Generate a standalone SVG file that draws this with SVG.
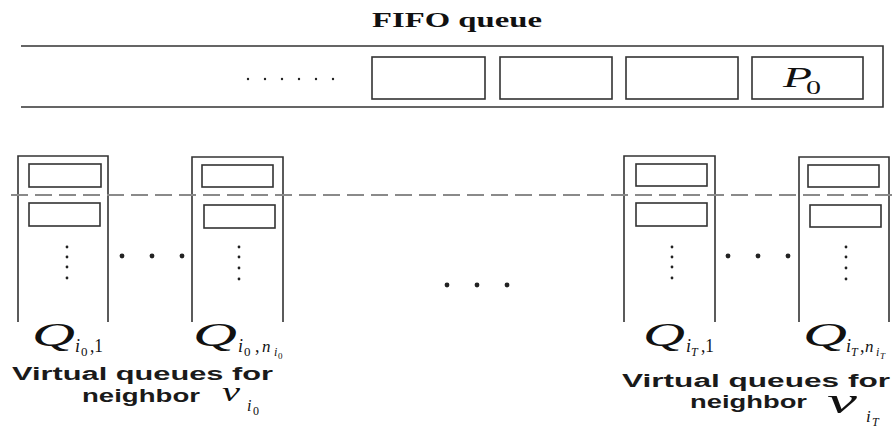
<svg xmlns="http://www.w3.org/2000/svg" width="895" height="430" viewBox="0 0 895 430">
<style>
.ln{fill:none;stroke:#333;stroke-width:1.6}
.bx{fill:#fff;stroke:#333;stroke-width:1.6}
.dash{fill:none;stroke:#8a8a8a;stroke-width:2;stroke-dasharray:17 7}
.dot{fill:#222}
.mi{font-family:"Liberation Serif",serif;font-style:italic;fill:#111}
.mr{font-family:"Liberation Serif",serif;fill:#111}
.lbl{font-family:"Liberation Sans",Arial,sans-serif;font-weight:bold;font-size:18px;fill:#1a1a1a}
.ttl{font-family:"Liberation Serif",serif;font-weight:bold;font-size:20px;fill:#111}
</style>
<rect width="895" height="430" fill="#fff"/>

<g id="fifo">
<text class="ttl" x="372" y="27" textLength="170" lengthAdjust="spacingAndGlyphs">FIFO queue</text>
<path class="ln" d="M21 46H883V107H21"/>
<g class="dot">
<circle cx="248" cy="79" r="1.2"/><circle cx="265" cy="79" r="1.2"/><circle cx="282" cy="79" r="1.2"/><circle cx="299" cy="79" r="1.2"/><circle cx="316" cy="79" r="1.2"/><circle cx="333" cy="79" r="1.2"/>
</g>
<rect class="bx" x="372" y="57" width="113" height="42"/>
<rect class="bx" x="500" y="57" width="112" height="42"/>
<rect class="bx" x="626" y="57" width="112" height="42"/>
<rect class="bx" x="752" y="57" width="111" height="42"/>
<text class="mi" x="783" y="87" font-size="30" textLength="29" lengthAdjust="spacingAndGlyphs">P</text>
<text class="mr" x="806" y="94" font-size="18" textLength="15" lengthAdjust="spacingAndGlyphs">0</text>
</g>

<g id="q_i0_1">
<path class="ln" d="M18 322V156H108V322"/>
<rect class="bx" x="29" y="164" width="72" height="23"/>
<rect class="bx" x="29" y="203" width="71" height="23"/>
<g class="dot"><circle cx="67" cy="247" r="1.4"/><circle cx="67" cy="257" r="1.4"/><circle cx="67" cy="267" r="1.4"/><circle cx="67" cy="278" r="1.4"/></g>
<text class="mi" x="32" y="346" font-size="34" textLength="43" lengthAdjust="spacingAndGlyphs">Q</text>
<text class="mi" x="75" y="352" font-size="18">i</text>
<text class="mr" x="81" y="356" font-size="13">0</text>
<text class="mr" x="90" y="352" font-size="18" textLength="13" lengthAdjust="spacingAndGlyphs">,1</text>
</g>

<g id="q_i0_n">
<path class="ln" d="M192 322V157H283V322"/>
<rect class="bx" x="202" y="165" width="71" height="22"/>
<rect class="bx" x="204" y="205" width="71" height="23"/>
<g class="dot"><circle cx="239" cy="247" r="1.4"/><circle cx="239" cy="257" r="1.4"/><circle cx="239" cy="268" r="1.4"/><circle cx="239" cy="279" r="1.4"/></g>
<text class="mi" x="193" y="346" font-size="34" textLength="44" lengthAdjust="spacingAndGlyphs">Q</text>
<text class="mi" x="238" y="352" font-size="18">i</text>
<text class="mr" x="244" y="356" font-size="13">0</text>
<text class="mr" x="255" y="352" font-size="18">,</text>
<text class="mi" x="262" y="352" font-size="17">n</text>
<text class="mi" x="274" y="356" font-size="12">i</text>
<text class="mr" x="278" y="359" font-size="9">0</text>
</g>

<g id="q_iT_1">
<path class="ln" d="M624 322V156H715V322"/>
<rect class="bx" x="636" y="164" width="71" height="22"/>
<rect class="bx" x="636" y="203" width="71" height="23"/>
<g class="dot"><circle cx="672" cy="247" r="1.4"/><circle cx="672" cy="257" r="1.4"/><circle cx="672" cy="267" r="1.4"/><circle cx="672" cy="278" r="1.4"/></g>
<text class="mi" x="643" y="346" font-size="34" textLength="42" lengthAdjust="spacingAndGlyphs">Q</text>
<text class="mi" x="686" y="352" font-size="18">i</text>
<text class="mi" x="691" y="356" font-size="12">T</text>
<text class="mr" x="701" y="352" font-size="18" textLength="13" lengthAdjust="spacingAndGlyphs">,1</text>
</g>

<g id="q_iT_n">
<path class="ln" d="M799 322V157H889V322"/>
<rect class="bx" x="808" y="165" width="71" height="22"/>
<rect class="bx" x="810" y="205" width="71" height="22"/>
<g class="dot"><circle cx="846" cy="247" r="1.4"/><circle cx="846" cy="257" r="1.4"/><circle cx="846" cy="268" r="1.4"/><circle cx="846" cy="279" r="1.4"/></g>
<text class="mi" x="803" y="346" font-size="34" textLength="44" lengthAdjust="spacingAndGlyphs">Q</text>
<text class="mi" x="846" y="352" font-size="18">i</text>
<text class="mi" x="851" y="356" font-size="12">T</text>
<text class="mr" x="860" y="352" font-size="18">,</text>
<text class="mi" x="865" y="352" font-size="17">n</text>
<text class="mi" x="876" y="356" font-size="12">i</text>
<text class="mi" x="880" y="359" font-size="9">T</text>
</g>

<g id="connectors">
<line class="dash" x1="11" y1="195" x2="895" y2="195"/>
<g class="dot">
<circle cx="122" cy="256" r="2.4"/><circle cx="152" cy="256" r="2.4"/><circle cx="182" cy="256" r="2.4"/>
<circle cx="447" cy="285" r="2.4"/><circle cx="477" cy="285" r="2.4"/><circle cx="507" cy="285" r="2.4"/>
<circle cx="728" cy="256" r="2.4"/><circle cx="758" cy="256" r="2.4"/><circle cx="788" cy="256" r="2.4"/>
</g>
</g>

<g id="label_i0">
<text class="lbl" x="12" y="380" textLength="261" lengthAdjust="spacingAndGlyphs">Virtual queues for</text>
<text class="lbl" x="82" y="402" textLength="118" lengthAdjust="spacingAndGlyphs">neighbor</text>
<text class="mi" x="222" y="401" font-size="27" textLength="18" lengthAdjust="spacingAndGlyphs">v</text>
<text class="mi" x="247" y="411" font-size="16">i</text>
<text class="mr" x="253" y="415" font-size="12">0</text>
</g>

<g id="label_iT">
<text class="lbl" x="622" y="387" textLength="268" lengthAdjust="spacingAndGlyphs">Virtual queues for</text>
<text class="lbl" x="690" y="408" textLength="117" lengthAdjust="spacingAndGlyphs">neighbor</text>
<text class="mi" x="827" y="413" font-size="36" textLength="30" lengthAdjust="spacingAndGlyphs">v</text>
<text class="mi" x="866" y="422" font-size="17">i</text>
<text class="mi" x="872" y="426" font-size="12">T</text>
</g>
</svg>
